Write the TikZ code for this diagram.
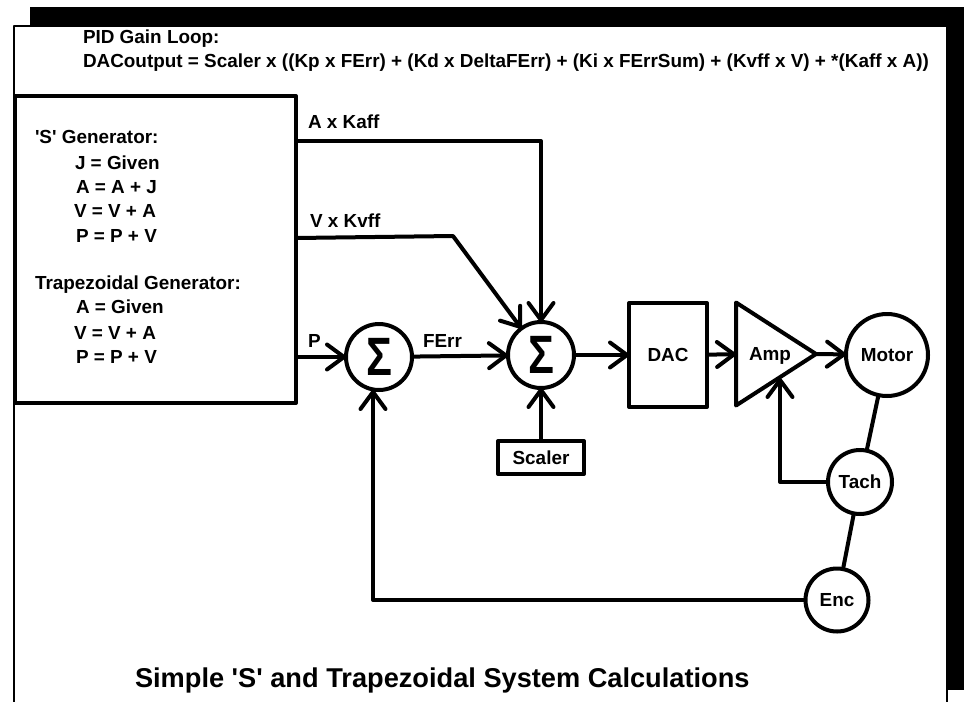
\documentclass[tikz,border=0pt]{standalone}
\usepackage{fontspec}
\setmainfont{Liberation Sans}
\usetikzlibrary{arrows.meta, shapes.geometric, positioning}

\begin{document}
\begin{tikzpicture}[x=1pt,y=-1pt,>={Straight Barb[length=17pt,width=25pt,round]},
 line width=4pt,line join=round,font=\bfseries\fontsize{18.9}{20}\selectfont,
 main node/.style={circle,draw,outer sep=0pt,inner sep=0pt},
 box node/.style={rectangle,draw,outer sep=0pt,inner sep=0pt},
 sum node/.style={main node,minimum size=66pt,font=\bfseries\fontsize{54}{54}\selectfont},
 lbl/.style={anchor=base west,inner sep=0pt,outer sep=0pt}]

  \useasboundingbox (0,0) rectangle (964,702);

  % frame and its shadow
  \fill (30,7) rectangle (964,27);
  \fill (946,7) rectangle (964,690);
  \draw[line width=2pt] (30,26) -- (14,26) -- (14,702);
  \draw[line width=2pt] (947,690) -- (947,702);

  % blocks
  \node[box node,minimum width=281pt,minimum height=307pt] (gen) at (155.5,249.5) {};
  \node[sum node] (sumP) at (379,357) {\scalebox{.8}[1]{Σ}};
  \node[sum node] (sumFF) [right=96pt of sumP,yshift=2pt] {\scalebox{.8}[1]{Σ}};
  \node[box node,minimum width=78pt,minimum height=104pt] (dac) [right=55pt of sumFF] {DAC};
  \node[box node,minimum width=86pt,minimum height=33pt] (scaler) [below=53pt of sumFF] {Scaler};
  \node[isosceles triangle,isosceles triangle stretches,draw,outer sep=0pt,inner sep=0pt,
    minimum width=103pt,minimum height=80pt] (amp) [right=29pt of dac,yshift=1pt] {};
  \node[lbl,anchor=base] (amplbl) at (770,360) {Amp};
  \node[main node,minimum size=82pt] (motor) at (887,355) {Motor};
  \node[main node,minimum size=64pt] (tach) at (860,482) {Tach};
  \node[main node,minimum size=63pt] (enc) at (837,600) {Enc};

  % connector ends that have no node
  \coordinate (aout) at (gen.east |- 0,141);
  \coordinate (vout) at (gen.east |- 0,238);
  \coordinate (vknee) at (453,236);
  \coordinate (ampin) at (780,378);
  \coordinate (sumin) at (373,390);

  \draw[->] (aout) -| (sumFF);
  \draw[->] (vout) -- (vknee) -- (sumFF);
  \draw[->] (gen.east |- sumP) -- (sumP);
  \foreach \s/\t in {sumP/sumFF, sumFF/dac, dac/amp, amp.apex/motor, scaler/sumFF} {
   \draw[->] (\s) -- (\t);}
  \draw[->] (tach.west) -| (ampin);
  \draw[->] (enc.west) -| (sumin);
  \draw (motor) -- (tach);
  \draw (tach) -- (enc);

  % texts
  \foreach \n/\x/\y/\t in {a/83/43/PID Gain Loop:,
    b/83/67/DACoutput = Scaler x ((Kp x FErr) + (Kd x DeltaFErr) + (Ki x FErrSum) + (Kvff x V) + *(Kaff x A)),
    c/35/143/\textquotesingle S\textquotesingle{} Generator:, d/75/169/J = Given, e/76/193/A = A + J, f/74/217/V = V + A, g/76/242/P = P + V,
    h/35/289/Trapezoidal Generator:, i/76/313/A = Given, j/74/339/V = V + A, k/76/363/P = P + V,
    l/308/128/A x Kaff, m/310/227/V x Kvff, n/308/347/P, o/423/347/FErr} {
   \node[lbl] (txt\n) at (\x,\y) {\t};}
  \node[lbl,font=\bfseries\fontsize{27.2}{30}\selectfont] (title) at (135,687) {Simple \textquotesingle S\textquotesingle{} and Trapezoidal System Calculations};

\end{tikzpicture}
\end{document}
